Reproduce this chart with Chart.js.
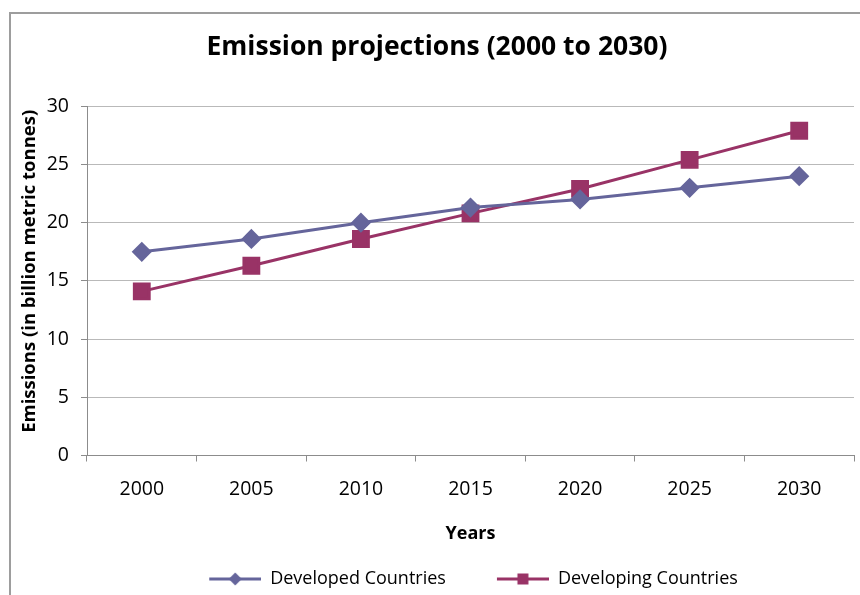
<!DOCTYPE html>
<html lang="en">
<head>
    <meta charset="UTF-8">
    <title>Emission projections (2000 to 2030)</title>
    <script src="https://cdn.jsdelivr.net/npm/chart.js"></script>
    <style>
        body { margin: 0; background: #fff; }
        #wrap { width: 860px; height: 595px; }
    </style>
</head>
<body>
    <div id="wrap"><canvas id="grafico" width="860" height="595"></canvas></div>

    <script>
        // data
        const years = ["2000", "2005", "2010", "2015", "2020", "2025", "2030"];
        const developed = [17.5, 18.6, 20.0, 21.3, 22.0, 23.0, 24.0];
        const developing = [14.1, 16.3, 18.6, 20.8, 22.9, 25.4, 27.9];
        const seriesNames = ["Developed Countries", "Developing Countries"];

        const blue = "#65659b";
        const plum = "#993366";
        const font = "'Open Sans', 'DejaVu Sans', sans-serif";

        // small line + marker swatch for the legend
        function swatch(color, shape) {
            const c = document.createElement("canvas");
            c.width = 93;
            c.height = 16;
            const g = c.getContext("2d");
            g.strokeStyle = color;
            g.fillStyle = color;
            g.lineWidth = 3;
            g.beginPath();
            g.moveTo(41, 8);
            g.lineTo(93, 8);
            g.stroke();
            const cx = 67;
            g.beginPath();
            if (shape === "diamond") {
                g.moveTo(cx, 1.5); g.lineTo(cx + 6.5, 8); g.lineTo(cx, 14.5); g.lineTo(cx - 6.5, 8);
            } else {
                g.rect(cx - 5.5, 2.5, 11, 11);
            }
            g.closePath();
            g.fill();
            return c;
        }
        const swatches = [swatch(blue, "diamond"), swatch(plum, "square")];

        // frame around the chart, plus small nudges of title and legend
        const frame = {
            id: "frame",
            afterLayout(chart) {
                const lg = chart.legend;
                lg.left += 20; lg.right += 20;
                lg.top += 1; lg.bottom += 1;
                const tb = chart.titleBlock;
                tb.left += 4; tb.right += 4;
            },
            beforeDraw(chart) {
                const c = chart.ctx;
                c.save();
                c.fillStyle = "#fff";
                c.fillRect(0, 0, chart.width, chart.height);
                c.strokeStyle = "#9d9d9d";
                c.lineWidth = 2;
                c.beginPath();
                c.moveTo(10, 595);
                c.lineTo(10, 13);
                c.lineTo(860, 13);
                c.stroke();
                c.restore();
            }
        };

        new Chart(document.getElementById("grafico"), {
            type: "line",
            data: {
                labels: years,
                datasets: [
                    {
                        label: seriesNames[0],
                        data: developed,
                        borderColor: blue,
                        backgroundColor: blue,
                        borderWidth: 3,
                        pointStyle: "rectRot",
                        pointRadius: 8,
                        pointHoverRadius: 8,
                        tension: 0
                    },
                    {
                        label: seriesNames[1],
                        data: developing,
                        borderColor: plum,
                        backgroundColor: plum,
                        borderWidth: 3,
                        pointStyle: "rect",
                        pointRadius: 10.5,
                        pointHoverRadius: 10.5,
                        tension: 0
                    }
                ]
            },
            options: {
                responsive: false,
                animation: false,
                layout: { autoPadding: false, padding: { left: 12, right: 6, top: 0, bottom: -2 } },
                plugins: {
                    title: {
                        display: true,
                        text: "Emission projections (2000 to 2030)",
                        color: "#000",
                        font: { family: font, size: 26.5, weight: "bold" },
                        padding: { top: 31.5, bottom: 43 }
                    },
                    legend: {
                        position: "bottom",
                        labels: {
                            usePointStyle: true,
                            pointStyleWidth: 93,
                            padding: 10,
                            color: "#000",
                            font: { family: font, size: 18 },
                            generateLabels(chart) {
                                return chart.data.datasets.map((ds, i) => ({
                                    text: ds.label,
                                    pointStyle: swatches[i],
                                    fillStyle: ds.borderColor,
                                    strokeStyle: ds.borderColor,
                                    lineWidth: 0,
                                    fontColor: "#000",
                                    datasetIndex: i
                                }));
                            }
                        }
                    },
                    tooltip: { enabled: false }
                },
                scales: {
                    x: {
                        offset: true,
                        grid: {
                            offset: true,
                            drawOnChartArea: false,
                            tickLength: 6,
                            tickColor: "#8c8c8c"
                        },
                        border: { color: "#8c8c8c" },
                        ticks: { color: "#000", padding: 16, maxRotation: 0, font: { family: font, size: 19.5 } },
                        title: {
                            display: true,
                            text: "Years",
                            color: "#000",
                            font: { family: font, size: 18, weight: "bold" },
                            padding: { top: 0, bottom: 14 }
                        },
                        afterFit(scale) {
                            scale.height = 103.5;
                        }
                    },
                    y: {
                        min: 0,
                        max: 30,
                        ticks: { stepSize: 5, color: "#000", padding: 12, font: { family: font, size: 19.5 } },
                        grid: { color: "#b9b9b9", tickLength: 6, tickColor: "#8c8c8c" },
                        border: { color: "#8c8c8c" },
                        title: {
                            display: true,
                            text: "    Emissions (in billion metric tonnes)",
                            color: "#000",
                            font: { family: font, size: 18.5, weight: "bold" },
                            padding: { top: 7, bottom: 0 }
                        },
                        afterFit(scale) { scale.width = 75; }
                    }
                }
            },
            plugins: [frame]
        });
    </script>
</body>
</html>
